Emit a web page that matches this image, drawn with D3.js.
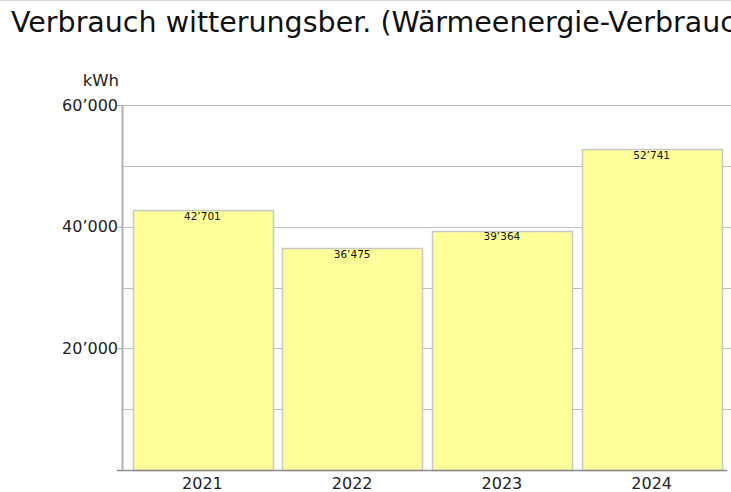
<!DOCTYPE html>
<html>
<head>
<meta charset="utf-8">
<script src="https://cdn.jsdelivr.net/npm/d3@7"></script>
<style>
  body { margin: 0; background: #fff; overflow: hidden; }
  svg { display: block; font-family: "DejaVu Sans", Verdana, sans-serif; }
</style>
</head>
<body>
<script>
//data
var years = ["2021", "2022", "2023", "2024"];
var consumption = [42701, 36475, 39364, 52741];
var majorTicks = [20000, 40000, 60000];
var gridTicks = [10000, 20000, 30000, 40000, 50000, 60000];

var width = 731,
    height = 492,
    axisX = 122,
    plotTop = 105,
    plotBottom = 470;

//thousands with a typographic apostrophe
function fmt(v){
    return d3.format(",")(v).replace(/,/g, "\u2019");
};

var svg = d3.select("body")
    .append("svg")
    .attr("width", width)
    .attr("height", height);

var x = d3.scaleBand()
    .domain(years)
    .range([127.5, 726.5])
    .paddingInner(0.067)
    .paddingOuter(0.0335);

var y = d3.scaleLinear()
    .domain([0, 60000])
    .range([plotBottom, plotTop]);

//top border
svg.append("line")
    .attr("x1", 0).attr("x2", width)
    .attr("y1", 0.5).attr("y2", 0.5)
    .style("stroke", "#d8d8d8");

//title (runs past the right edge, as in the original)
svg.append("text")
    .attr("x", 11)
    .attr("y", 32)
    .style("font-size", "28.5px")
    .style("fill", "#111")
    .text("Verbrauch witterungsber. (Wärmeenergie-Verbrauch)");

//gridlines
svg.selectAll(".grid")
    .data(gridTicks)
    .enter()
    .append("line")
    .attr("class", "grid")
    .attr("x1", axisX)
    .attr("x2", width)
    .attr("y1", function(d){ return Math.round(y(d)) + 0.5; })
    .attr("y2", function(d){ return Math.round(y(d)) + 0.5; })
    .style("stroke", "#bdbdbd");

//major tick marks + labels
var yAxis = d3.axisLeft(y)
    .tickValues(majorTicks)
    .tickSize(5)
    .tickFormat(fmt);

var yG = svg.append("g")
    .attr("transform", "translate(" + axisX + ",0)")
    .call(yAxis);
yG.select(".domain").remove();
yG.selectAll("line").style("stroke", "#aaa");
yG.selectAll("text")
    .attr("x", -4)
    .style("font-family", "DejaVu Sans, Verdana, sans-serif")
    .style("font-size", "16px")
    .style("fill", "#222");

//unit label
svg.append("text")
    .attr("x", 119)
    .attr("y", 86)
    .attr("text-anchor", "end")
    .style("font-size", "16.5px")
    .style("fill", "#222")
    .text("kWh");

//vertical axis line
svg.append("line")
    .attr("x1", axisX + 0.5).attr("x2", axisX + 0.5)
    .attr("y1", plotTop).attr("y2", plotBottom)
    .style("stroke", "#b0b0b0")
    .style("stroke-width", 2);

//bars
var data = years.map(function(d, i){ return {year: d, value: consumption[i]}; });

svg.selectAll(".bar")
    .data(data)
    .enter()
    .append("rect")
    .attr("class", "bar")
    .attr("x", function(d){ return Math.round(x(d.year)) + 0.5; })
    .attr("width", Math.round(x.bandwidth()))
    .attr("y", function(d){ return Math.round(y(d.value)) + 0.5; })
    .attr("height", function(d){ return plotBottom - Math.round(y(d.value)); })
    .style("fill", "#ffff99")
    .style("stroke", "#c8c8c8")
    .style("stroke-width", 1.5);

//value labels
svg.selectAll(".val")
    .data(data)
    .enter()
    .append("text")
    .attr("class", "val")
    .attr("x", function(d){ return x(d.year) + x.bandwidth() / 2; })
    .attr("y", function(d){ return y(d.value) + 9.5; })
    .attr("text-anchor", "middle")
    .style("font-size", "10.5px")
    .style("fill", "#111")
    .text(function(d){ return fmt(d.value); });

//baseline
svg.append("line")
    .attr("x1", 117).attr("x2", 727)
    .attr("y1", plotBottom + 0.5).attr("y2", plotBottom + 0.5)
    .style("stroke", "#8c8c8c")
    .style("stroke-width", 1.5);

//x labels
var xAxis = d3.axisBottom(x).tickSize(0);
var xG = svg.append("g")
    .attr("transform", "translate(0," + plotBottom + ")")
    .call(xAxis);
xG.select(".domain").remove();
xG.selectAll("text")
    .attr("dy", "1em")
    .attr("y", 3)
    .style("font-family", "DejaVu Sans, Verdana, sans-serif")
    .style("font-size", "16px")
    .style("fill", "#222");
</script>
</body>
</html>
